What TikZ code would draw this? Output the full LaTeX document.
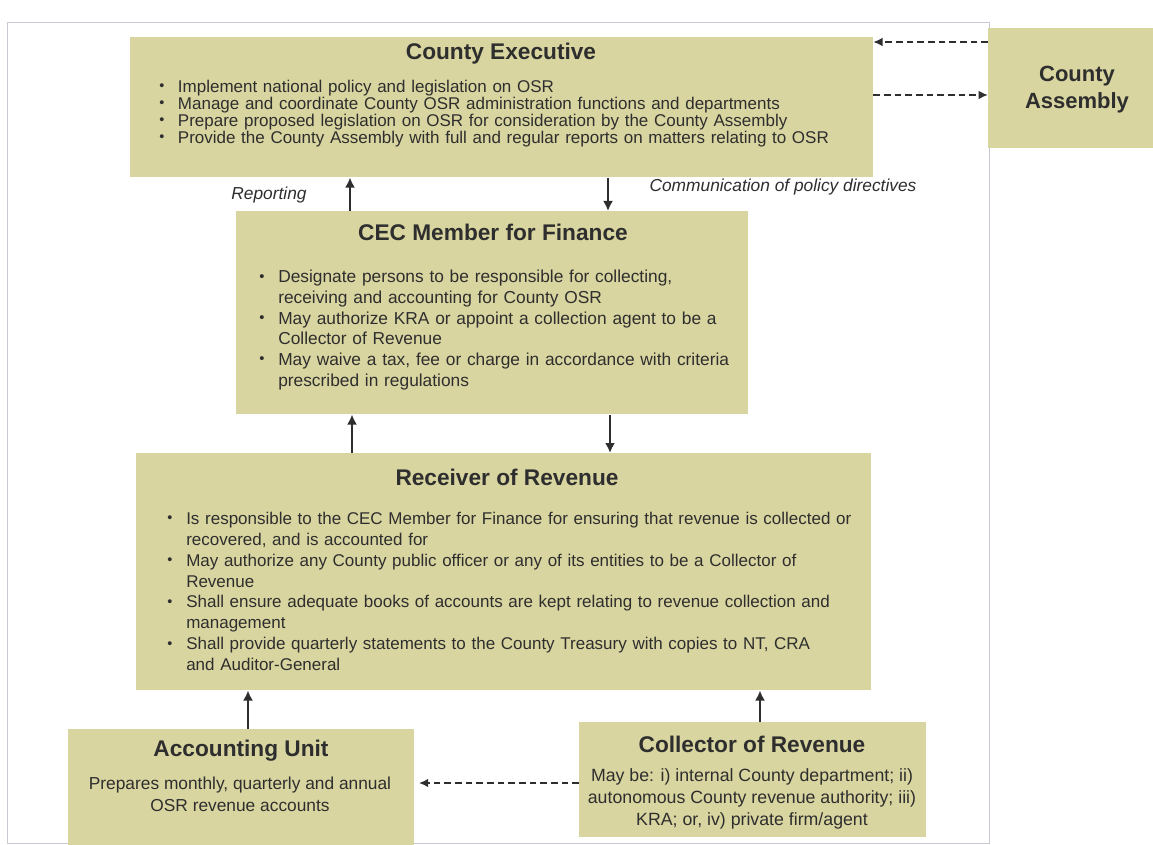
\documentclass[tikz,border=0pt]{standalone}
\usepackage{fontspec}
\setmainfont{Liberation Sans}
\usepackage{xcolor}
\definecolor{OSRKhaki}{HTML}{D8D5A0}
\definecolor{OSRText}{HTML}{2E2E2E}
\definecolor{OSRFrame}{HTML}{C9C9D3}
\usetikzlibrary{positioning,arrows.meta}
\newcommand{\osrpoint}[2][14pt]{\par\noindent\hangindent=#1\hangafter=1%
  \makebox[#1][l]{\raisebox{0.1em}{\scalebox{0.85}{\textbullet}}}#2\par}

\begin{document}
\begin{tikzpicture}[
    x=0.75pt, y=-0.75pt,
    panel/.style={rectangle, fill=OSRKhaki, anchor=north west, inner sep=0pt},
    heading/.style={font=\fontsize{17}{20}\selectfont\bfseries, text=OSRText, inner sep=0pt},
    points/.style={anchor=north west, inner sep=0pt, align=left, text=OSRText},
    body/.style={font=\fontsize{13}{16.5}\selectfont, text=OSRText, align=center, inner sep=0pt},
    flowlabel/.style={font=\fontsize{13}{15}\selectfont\itshape, text=OSRText, inner sep=0pt},
    arr/.style={-{Latex[length=7.5pt,width=7.5pt]}, line width=1.5pt, draw=OSRText},
    dasharr/.style={-{Latex[length=7pt,width=6.5pt]}, line width=1.5pt, dash pattern=on 5pt off 3pt, draw=OSRText},
    frame/.style={draw=OSRFrame, line width=0.6pt},
]
\useasboundingbox (0,0) rectangle (1153,845);
\fill[white] (0,0) rectangle (1153,845);
\draw[frame] (7,22) rectangle (989,843);

% Boxes
\node[panel, minimum width=557pt, minimum height=105pt] (exec) at (130,37) {};
\node[panel, minimum width=124pt, minimum height=90pt] (assembly) at (988,28) {};
\node[panel, minimum width=384pt, minimum height=152.25pt] (cec) at (236,211) {};
\node[panel, minimum width=551pt, minimum height=177.75pt] (receiver) at (136,453) {};
\node[panel, minimum width=259pt, minimum height=87pt] (accounting) at (68,729) {};
\node[panel, minimum width=260pt, minimum height=86pt] (collector) at (579,722) {};

% County Executive
\node[heading] (execTitle) at (501,54) {County Executive};
\node[points, text width=520pt, font=\fontsize{12.75}{12.75}\selectfont] (execPoints) at (159,75) {%
  \osrpoint{Implement national policy and legislation on OSR}
  \osrpoint{Manage and coordinate County OSR administration functions and departments}
  \osrpoint{Prepare proposed legislation on OSR for consideration by the County Assembly}
  \osrpoint{Provide the County Assembly with full and regular reports on matters relating to OSR}};

% County Assembly
\node[heading, align=center, font=\fontsize{16.5}{20.25}\selectfont\bfseries] (assemblyTitle) at (1077,90) {County\\Assembly};

% CEC Member for Finance
\node[heading] (cecTitle) at (493,232) {CEC Member for Finance};
\node[points, text width=380pt, font=\fontsize{13}{15.5}\selectfont] (cecPoints) at (259,262) {%
  \osrpoint[14.25pt]{Designate persons to be responsible for collecting,\newline receiving and accounting for County OSR}
  \osrpoint[14.25pt]{May authorize KRA or appoint a collection agent to be a\newline Collector of Revenue}
  \osrpoint[14.25pt]{May waive a tax, fee or charge in accordance with criteria\newline prescribed in regulations}};

% Receiver of Revenue
\node[heading] (receiverTitle) at (507,477) {Receiver of Revenue};
\node[points, text width=540pt, font=\fontsize{12.75}{15.7}\selectfont] (receiverPoints) at (167,503) {%
  \osrpoint[14.25pt]{Is responsible to the CEC Member for Finance for ensuring that revenue is collected or\newline recovered, and is accounted for}
  \osrpoint[14.25pt]{May authorize any County public officer or any of its entities to be a Collector of\newline Revenue}
  \osrpoint[14.25pt]{Shall ensure adequate books of accounts are kept relating to revenue collection and\newline management}
  \osrpoint[14.25pt]{Shall provide quarterly statements to the County Treasury with copies to NT, CRA\newline and Auditor-General}};

% Accounting Unit / Collector of Revenue
\node[heading] (accountingTitle) at (241,751) {Accounting Unit};
\node[body] (accountingText) at (240,794) {Prepares monthly, quarterly and annual\\OSR revenue accounts};
\node[heading] (collectorTitle) at (752,744) {Collector of Revenue};
\node[body, font=\fontsize{13.3}{16.5}\selectfont] (collectorText) at (752,799) {May be: i) internal County department; ii)\\autonomous County revenue authority; iii)\\KRA; or, iv) private firm/agent};

% Labels
\node[flowlabel] (reportingLabel) at (269,195) {Reporting};
\node[flowlabel] (policyLabel) at (783,187) {Communication of policy directives};

% Verbindungen
\draw[arr] ([xshift=85.5pt]cec.north west) -- ([xshift=165pt]exec.south west);
\draw[arr] ([xshift=358.5pt]exec.south west) -- ([xshift=279pt]cec.north west);
\draw[arr] ([xshift=162pt]receiver.north west) -- ([xshift=87pt]cec.south west);
\draw[arr] ([xshift=280.5pt]cec.south west) -- ([xshift=355.5pt]receiver.north west);
\draw[arr] ([xshift=135pt]accounting.north west) -- ([xshift=84pt]receiver.south west);
\draw[arr] ([xshift=135.75pt]collector.north west) -- ([xshift=468pt]receiver.south west);
\draw[dasharr] ([yshift=-10.5pt]assembly.north west) -- ([yshift=-3.75pt]exec.north east);
\draw[dasharr] ([yshift=-43.5pt]exec.north east) -- ([yshift=-50.25pt]assembly.north west);
\draw[dasharr, shorten >=3.75pt] ([yshift=-45.75pt]collector.north west) -- ([yshift=-40.5pt]accounting.north east);

\end{tikzpicture}
\end{document}
